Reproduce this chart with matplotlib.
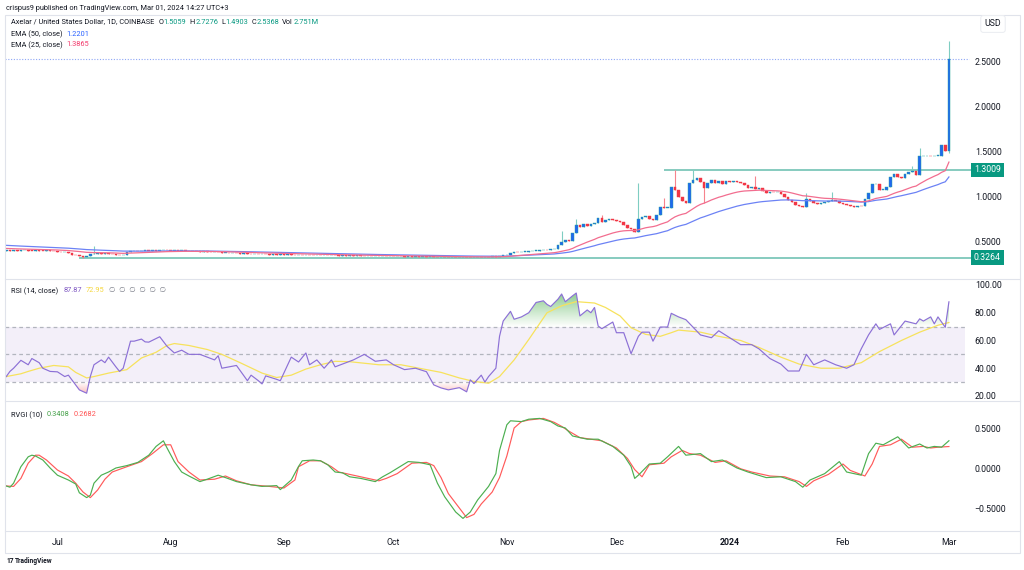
import matplotlib
matplotlib.use('Agg')
import matplotlib.pyplot as plt
import numpy as np
import pandas as pd
from matplotlib.lines import Line2D
from matplotlib.patches import Rectangle, PathPatch
from matplotlib.path import Path
from matplotlib.ticker import FuncFormatter
import matplotlib.transforms as mtransforms

plt.rcParams['font.family'] = ['Roboto', 'DejaVu Sans']

W, H = 1024, 570

# ---- daily candles (AXL/USD, Coinbase) ----
start_date = '2023-06-17'
first_open = 0.405
closes = [
    0.41, 0.405, 0.41, 0.405, 0.41, 0.41, 0.405, 0.40, 0.41, 0.405, 0.40, 0.41, 0.40, 0.395,
    0.39, 0.385, 0.39, 0.375, 0.36, 0.355, 0.345, 0.33, 0.34,
    0.365, 0.37, 0.375, 0.37, 0.375, 0.37, 0.365, 0.36, 0.355, 0.355,
    0.39, 0.395, 0.40, 0.395, 0.40, 0.405, 0.40, 0.41, 0.405, 0.41, 0.415, 0.41, 0.405,
    0.41, 0.40, 0.405, 0.40, 0.395, 0.40, 0.395, 0.39, 0.395, 0.39, 0.385, 0.39, 0.385, 0.38, 0.38,
    0.375, 0.38, 0.375, 0.37, 0.375, 0.37, 0.365, 0.37, 0.365, 0.37, 0.365, 0.36, 0.365, 0.36, 0.365,
    0.36, 0.365, 0.36, 0.355, 0.36, 0.355, 0.36, 0.355, 0.35, 0.355, 0.35, 0.355, 0.35, 0.355, 0.35,
    0.345, 0.35, 0.345, 0.35, 0.345, 0.35, 0.345, 0.34, 0.345, 0.34, 0.345, 0.34, 0.345, 0.34, 0.345,
    0.34, 0.345, 0.34, 0.335, 0.34, 0.335, 0.34, 0.335, 0.34, 0.335, 0.34, 0.335, 0.33, 0.335, 0.33,
    0.328, 0.33, 0.328, 0.33, 0.335, 0.33, 0.328, 0.33, 0.335, 0.33, 0.335, 0.33, 0.34, 0.335, 0.345, 0.355,
    0.36, 0.38, 0.39, 0.385, 0.39, 0.39, 0.395, 0.40, 0.405, 0.41, 0.415, 0.41, 0.42, 0.42,
    0.47, 0.50, 0.52, 0.51, 0.60, 0.69, 0.67, 0.70, 0.68, 0.70, 0.71, 0.77, 0.72, 0.74, 0.75,
    0.74, 0.73, 0.72, 0.69, 0.66, 0.64, 0.61, 0.75, 0.78, 0.79, 0.75, 0.74, 0.80, 0.89, 0.88,
    0.88, 1.11, 1.08, 1.00, 0.96, 0.93, 1.16, 1.19, 1.21, 1.17, 1.10, 1.15, 1.19, 1.16, 1.18,
    1.14, 1.18, 1.17, 1.18, 1.17, 1.15, 1.13, 1.10, 1.11, 1.09, 1.10, 1.07, 1.04, 1.06, 1.05,
    1.05, 1.03, 1.00, 0.97, 0.94, 0.91, 0.90, 0.89, 0.98, 0.95, 0.93, 0.92, 0.93, 0.94, 0.96,
    0.97, 0.95, 0.93, 0.92, 0.91, 0.90, 0.89, 0.90, 0.895, 0.98, 1.04, 1.14, 1.14, 1.08, 1.08,
    1.11, 1.22, 1.25, 1.22, 1.21, 1.26, 1.28, 1.29, 1.24, 1.45, 1.45, 1.46, 1.45, 1.46, 1.46,
    1.58, 1.5059, 2.5368,
]
# notable wicks (candle index -> extreme)
wick_highs = {24: 0.455, 152: 0.62, 156: 0.75, 163: 0.80, 173: 1.16, 180: 0.99, 183: 1.3009,
              188: 1.30, 205: 1.23, 219: 1.04, 226: 1.05, 248: 1.34, 250: 1.54, 258: 2.7276}
wick_lows = {21: 0.3264, 191: 0.93, 258: 1.4903}

ema_slow_seed = 0.465   # EMA 50 at left edge
ema_fast_seed = 0.43    # EMA 25 at left edge

support_level, support_from = 0.3264, 20
resist_level, resist_from = 1.3009, 180
last_close = 2.5368

# ---- RSI (14) and its MA: candle index / value ----
rsi_idx = [0, 1, 2, 4, 6, 7, 9, 10, 12, 14, 16, 17, 19, 20, 22, 23, 24, 26, 27, 28, 30, 31, 32,
           34, 35, 37, 38, 39, 42, 44, 46, 48, 50, 53, 55, 57, 58, 59, 61, 63, 66, 67, 69, 70,
           71, 74, 75, 78, 80, 82, 83, 85, 87, 89, 90, 93, 95, 98, 101, 104, 106, 109, 112,
           115, 117, 119, 121, 124, 126, 127, 128, 130, 131, 132, 134, 135, 136, 138, 139,
           141, 143, 145, 147, 148, 149, 151, 152, 153, 155, 156, 157, 159, 160, 161, 162,
           163, 166, 167, 169, 171, 173, 174, 176, 177, 179, 181, 182, 184, 186, 190, 193,
           195, 198, 201, 204, 206, 209, 212, 214, 217, 219, 221, 224, 227, 230, 232, 234,
           236, 238, 239, 242, 243, 246, 249, 250, 251, 253, 254, 255, 257, 258]
rsi_vals = [34, 37.7, 40, 45.7, 42.5, 47, 44, 40, 37.7, 37.4, 34, 35, 28, 24.4, 22, 34, 42.5,
            46, 44, 48, 41, 37.7, 40, 59.5, 59.5, 61, 59, 58.8, 62.7, 55.8, 51, 53, 50, 50,
            48, 46, 49, 40, 41, 42, 31, 35, 31, 28.7, 34.5, 32, 31, 48, 44.5, 51, 42.5, 46,
            40, 46, 41, 44, 46, 50, 45, 46, 42.5, 39, 40, 37.5, 28, 25.8, 24.4, 26, 23, 31.6,
            29, 35, 30, 34, 40, 63, 74, 81, 75.3, 77, 80, 87.4, 88.6, 86, 84.5, 89.8, 93.5,
            87.9, 92.2, 94.2, 77.7, 82, 80, 83.8, 70.4, 68.5, 73.3, 65.6, 65.6, 50.5, 63, 66,
            66, 59.5, 69.7, 69.7, 79.6, 77, 75, 64, 62, 67, 62, 57, 57, 54, 47, 43, 38, 38,
            50, 42.5, 46, 42.5, 40, 42.5, 54, 64, 72, 68, 72, 64, 74, 72, 75.6, 74, 77, 72,
            77, 69.5, 87.87]
rsi_ma_idx = [0, 4, 6, 9, 13, 17, 19, 22, 24, 28, 33, 37, 41, 44, 46, 50, 55, 59, 64, 70, 74,
              78, 82, 86, 90, 94, 102, 108, 113, 119, 124, 128, 132, 135, 139, 143, 148, 152,
              156, 161, 164, 168, 171, 175, 179, 182, 184, 190, 195, 201, 206, 212, 217, 223,
              228, 234, 239, 245, 250, 255, 258]
rsi_ma_vals = [34, 36, 37.7, 40, 42, 41, 37, 33, 34, 36.5, 39, 47.4, 51.5, 56.4, 57.8, 56.4,
               53.5, 50, 44, 36.5, 33.3, 35, 39.4, 42.5, 45, 44.7, 42.5, 42.5, 40, 37, 33,
               30.5, 29.2, 34, 46, 60.7, 80, 85, 88, 87, 83.8, 77.7, 69.2, 64.4, 63, 65.6,
               67.5, 66, 63, 60, 55, 48, 43, 40, 40, 44, 52, 60, 66, 71, 72.95]

# ---- RVGI (10) and signal ----
rvgi_idx = [0, 1, 2, 4, 6, 7, 8, 10, 12, 14, 17, 19, 20, 22, 23, 24, 26, 28, 30, 33, 36, 38,
            39, 41, 43, 44, 46, 48, 50, 53, 55, 58, 60, 63, 67, 70, 74, 75, 78, 80, 81, 84, 86,
            88, 90, 92, 94, 97, 101, 103, 105, 110, 113, 116, 118, 120, 123, 125, 127, 129,
            132, 134, 135, 137, 138, 141, 143, 146, 149, 151, 153, 155, 159, 162, 166, 169,
            171, 172, 173, 176, 179, 181, 184, 186, 190, 193, 196, 200, 203, 208, 212, 216,
            218, 220, 224, 228, 230, 234, 236, 238, 240, 244, 247, 250, 252, 254, 256, 258]
rvgi_vals = [-0.225, -0.24, -0.19, 0.016, 0.14, 0.16, 0.15, 0.10, 0.0, -0.09, -0.15, -0.20,
             -0.31, -0.37, -0.34, -0.19, -0.09, -0.05, 0.0, 0.03, 0.07, 0.13, 0.16, 0.27, 0.34,
             0.25, 0.08, -0.05, -0.10, -0.17, -0.14, -0.09, -0.12, -0.17, -0.21, -0.23, -0.22,
             -0.27, -0.15, 0.02, 0.09, 0.10, 0.09, 0.04, -0.05, -0.06, -0.11, -0.13, -0.17,
             -0.11, -0.06, 0.08, 0.07, 0.04, -0.19, -0.36, -0.55, -0.63, -0.55, -0.40, -0.23,
             -0.07, 0.22, 0.54, 0.59, 0.58, 0.61, 0.62, 0.58, 0.525, 0.50, 0.40, 0.36, 0.36,
             0.27, 0.16, 0.02, -0.13, -0.09, 0.05, 0.06, 0.14, 0.27, 0.16, 0.18, 0.08, 0.10,
             0.0, -0.05, -0.12, -0.11, -0.17, -0.24, -0.15, -0.07, 0.08, -0.05, -0.09, 0.18,
             0.31, 0.29, 0.39, 0.25, 0.30, 0.25, 0.27, 0.26, 0.3408]
rvgi_sig_idx = [0, 2, 4, 6, 8, 9, 11, 14, 17, 19, 21, 23, 25, 27, 29, 33, 37, 40, 43, 45, 47,
                50, 53, 57, 60, 63, 67, 72, 76, 79, 80, 83, 86, 89, 91, 94, 98, 102, 104, 107,
                111, 115, 117, 119, 121, 124, 126, 128, 130, 133, 135, 137, 139, 141, 143, 147,
                150, 152, 154, 157, 160, 163, 167, 170, 172, 174, 176, 180, 182, 185, 187, 190,
                194, 197, 201, 204, 209, 213, 217, 219, 221, 225, 229, 231, 235, 237, 239, 242,
                245, 248, 251, 253, 255, 258]
rvgi_sig_vals = [-0.225, -0.23, -0.13, 0.06, 0.16, 0.16, 0.10, -0.025, -0.10, -0.19, -0.30,
                 -0.37, -0.275, -0.14, -0.05, 0.016, 0.08, 0.18, 0.29, 0.29, 0.08, -0.05, -0.15,
                 -0.14, -0.10, -0.16, -0.21, -0.23, -0.25, -0.15, 0.016, 0.09, 0.09, 0.016,
                 -0.05, -0.08, -0.12, -0.16, -0.13, -0.07, 0.06, 0.07, 0.03, -0.12, -0.32,
                 -0.50, -0.62, -0.58, -0.45, -0.30, -0.12, 0.15, 0.50, 0.58, 0.60, 0.62, 0.57,
                 0.52, 0.46, 0.38, 0.36, 0.34, 0.25, 0.12, -0.02, -0.11, 0.04, 0.06, 0.14, 0.22,
                 0.18, 0.16, 0.07, 0.09, -0.01, -0.05, -0.10, -0.11, -0.17, -0.23, -0.16, -0.08,
                 0.05, -0.03, -0.10, 0.05, 0.27, 0.29, 0.36, 0.26, 0.27, 0.25, 0.26, 0.2682]

UP_BODY, UP_EDGE, DN = '#2168ee', '#26a69a', '#f23645'
TXT, GRID = '#131722', '#e0e3eb'


def px_rect(x0, y0, x1, y1):
    return [x0 / W, 1 - y1 / H, (x1 - x0) / W, (y1 - y0) / H]


def ema(values, span, seed):
    a = 2.0 / (span + 1)
    out, prev = [], seed
    for v in values:
        prev = prev + a * (v - prev)
        out.append(prev)
    return out


def gradient_fill(ax, x, y, base, limit, rgb, alpha_max, above=True):
    where = y > base if above else y < base
    coll = ax.fill_between(x, base, y, where=where, interpolate=True,
                           facecolor='none', edgecolor='none')
    paths = coll.get_paths()
    if not paths:
        return
    patch = PathPatch(Path.make_compound_path(*paths), transform=ax.transData,
                      facecolor='none', edgecolor='none')
    ax.add_patch(patch)
    grad = np.zeros((256, 1, 4))
    grad[..., :3] = rgb
    ramp = np.linspace(0, alpha_max, 256)
    grad[:, 0, 3] = ramp if above else ramp[::-1]
    lo, hi = (base, limit) if above else (limit, base)
    im = ax.imshow(grad, extent=[x.min(), x.max(), lo, hi], origin='lower',
                   aspect='auto', interpolation='bilinear', zorder=1)
    im.set_clip_path(patch)


n = len(closes)
dates = pd.date_range(start_date, periods=n, freq='D')
idx = np.arange(n)
opens = [first_open] + closes[:-1]

fig = plt.figure(figsize=(W / 100, H / 100), dpi=100)
fig.patch.set_facecolor('white')

ax_p = fig.add_axes(px_rect(5, 15, 965, 278))
ax_r = fig.add_axes(px_rect(5, 280, 965, 400))
ax_v = fig.add_axes(px_rect(5, 402, 965, 530))
xlim = (-0.35, 262.4)

for ax in (ax_p, ax_r, ax_v):
    ax.set_xlim(*xlim)
    ax.set_facecolor('none')
    for s in ax.spines.values():
        s.set_visible(False)
    ax.yaxis.tick_right()
    ax.tick_params(axis='y', length=0, pad=7, labelsize=6.3, labelcolor=TXT)
    ax.tick_params(axis='x', length=0)

# ---- price pane ----
for i in idx:
    o, c = opens[i], closes[i]
    up = c >= o
    hi = max(o, c, wick_highs.get(i, 0))
    lo = min(o, c, wick_lows.get(i, 99))
    ax_p.vlines(i, lo, hi, color='#7fcdc2' if up else '#f7838d', lw=0.8, zorder=2)
    h = max(abs(c - o), 0.006)
    ax_p.bar(i, h, bottom=min(o, c), width=0.72, color=UP_BODY if up else DN,
             edgecolor=UP_EDGE if up else DN, linewidth=0.3, zorder=3)

ax_p.plot(idx, ema(closes, 50, ema_slow_seed), color='#6c82f5', lw=0.9, zorder=4)
ax_p.plot(idx, ema(closes, 25, ema_fast_seed), color='#f26d8f', lw=0.9, zorder=4)

ax_p.hlines(resist_level, resist_from, xlim[1] + 3, color='#86cbbf', lw=1.4, zorder=1, clip_on=False)
ax_p.hlines(support_level, support_from, xlim[1] + 3, color='#86cbbf', lw=1.4, zorder=1, clip_on=False)
ax_p.hlines(last_close, xlim[0], xlim[1] + 1, color='#8ea6f6', lw=0.8, linestyles=(0, (1, 1.5)),
            zorder=1, clip_on=False)

ax_p.set_ylim(0.1, 3.022)
ax_p.set_yticks([0.5, 1.0, 1.5, 2.0, 2.5])
ax_p.yaxis.set_major_formatter(FuncFormatter(lambda v, p: f'{v:.4f}'))
ax_p.set_xticks([])

tr = mtransforms.blended_transform_factory(ax_p.transAxes, ax_p.transData)
for lvl in (resist_level, support_level):
    ax_p.text(1.0 + 9 / 960, lvl, f'{lvl:.4f}', transform=tr, color='white', fontsize=6.3,
              va='center', ha='left', clip_on=False, zorder=6,
              bbox=dict(boxstyle='square,pad=0.32', fc='#089981', ec='none'))

# ---- RSI pane ----
rx, ry = np.array(rsi_idx, float), np.array(rsi_vals, float)
ax_r.axhspan(30, 70, color='#7e57c2', alpha=0.09, lw=0, zorder=0)
for lvl in (70, 50, 30):
    ax_r.axhline(lvl, color='#b2b5be', lw=0.9, ls=(0, (3, 2.5)), zorder=1)
gradient_fill(ax_r, rx, ry, 70, 95, (0.30, 0.69, 0.31), 0.65, above=True)
gradient_fill(ax_r, rx, ry, 30, 20, (0.95, 0.30, 0.30), 0.45, above=False)
ax_r.plot(rsi_ma_idx, rsi_ma_vals, color='#f7e25c', lw=0.9, zorder=3)
ax_r.plot(rx, ry, color='#8c70d6', lw=0.85, zorder=4)
ax_r.set_xlim(*xlim)
ax_r.set_ylim(17.1, 103.6)
ax_r.set_yticks([20, 40, 60, 80, 100])
ax_r.yaxis.set_major_formatter(FuncFormatter(lambda v, p: f'{v:.2f}'))
ax_r.set_xticks([])

# ---- RVGI pane ----
ax_v.plot(rvgi_sig_idx, rvgi_sig_vals, color='#ff5a5a', lw=0.85, zorder=3)
ax_v.plot(rvgi_idx, rvgi_vals, color='#4caf50', lw=0.85, zorder=4)
ax_v.set_ylim(-0.775, 0.825)
ax_v.set_yticks([-0.5, 0.0, 0.5])
ax_v.yaxis.set_major_formatter(FuncFormatter(lambda v, p: f'{v:.4f}'.replace('-', '\u2212')))

month_pos = [i for i in idx if dates[i].day == 1]
month_lab = [str(dates[i].year) if dates[i].month == 1 else dates[i].strftime('%b') for i in month_pos]
ax_v.set_xticks(month_pos)
ax_v.set_xticklabels(month_lab)
ax_v.tick_params(axis='x', labelsize=6.3, labelcolor=TXT, pad=6)
for t in ax_v.get_xticklabels():
    if t.get_text().isdigit():
        t.set_fontweight('bold')

# ---- frame, separators ----
fig.add_artist(Rectangle((5 / W, 1 - 553 / H), 1015 / W, 538 / H, transform=fig.transFigure,
                         fill=False, ec=GRID, lw=0.8))
for ysep in (279, 401, 531):
    fig.add_artist(Line2D([5 / W, 1020 / W], [1 - ysep / H] * 2, color=GRID, lw=0.8))

# ---- texts ----
renderer = fig.canvas.get_renderer()


def chain(x_px, y_px, parts, size, weight='normal'):
    x = x_px
    for s, col, gap in parts:
        t = fig.text(x / W, 1 - y_px / H, s, color=col, fontsize=size, va='center',
                     ha='left', fontweight=weight)
        x += t.get_window_extent(renderer=renderer).width + gap


fig.text(6 / W, 1 - 8 / H, 'crispus9 published on TradingView.com, Mar 01, 2024 14:27 UTC+3',
         fontsize=5.3, color=TXT, va='center')
teal = '#089981'
chain(11, 22, [('Axelar / United States Dollar, 1D, COINBASE', TXT, 4), ('O', TXT, 0.5),
               ('1.5059', teal, 3), ('H', TXT, 0.5), ('2.7276', teal, 3), ('L', TXT, 0.5),
               ('1.4903', teal, 3), ('C', TXT, 0.5), ('2.5368', teal, 3), ('Vol', TXT, 0.5),
               ('2.751M', teal, 0)], 5.3)
chain(11, 34, [('EMA (50, close)', TXT, 4), ('1.2201', '#2962ff', 0)], 5.3)
chain(11, 45, [('EMA (25, close)', TXT, 4), ('1.3865', '#f23b6c', 0)], 5.3)
chain(11, 291, [('RSI (14, close)', TXT, 5), ('87.87', '#7e57c2', 4), ('72.95', '#f5d63d', 5),
                ('\u2205  \u2205  \u2205  \u2205  \u2205  \u2205', '#787b86', 0)], 5.3)
chain(11, 415, [('RVGI (10)', TXT, 4), ('0.3408', '#43a047', 4), ('0.2682', '#ff5252', 0)], 5.3)

fig.text(993 / W, 1 - 24 / H, 'USD', fontsize=6.3, color=TXT, va='center', ha='center',
         bbox=dict(boxstyle='round,pad=0.45,rounding_size=0.3', fc='white', ec='#eceef2', lw=0.8))

chain(6, 561, [('17', TXT, 1.5), ('TradingView', TXT, 0)], 4.8, weight='bold')

fig.savefig('out.png', dpi=100, facecolor='white')
